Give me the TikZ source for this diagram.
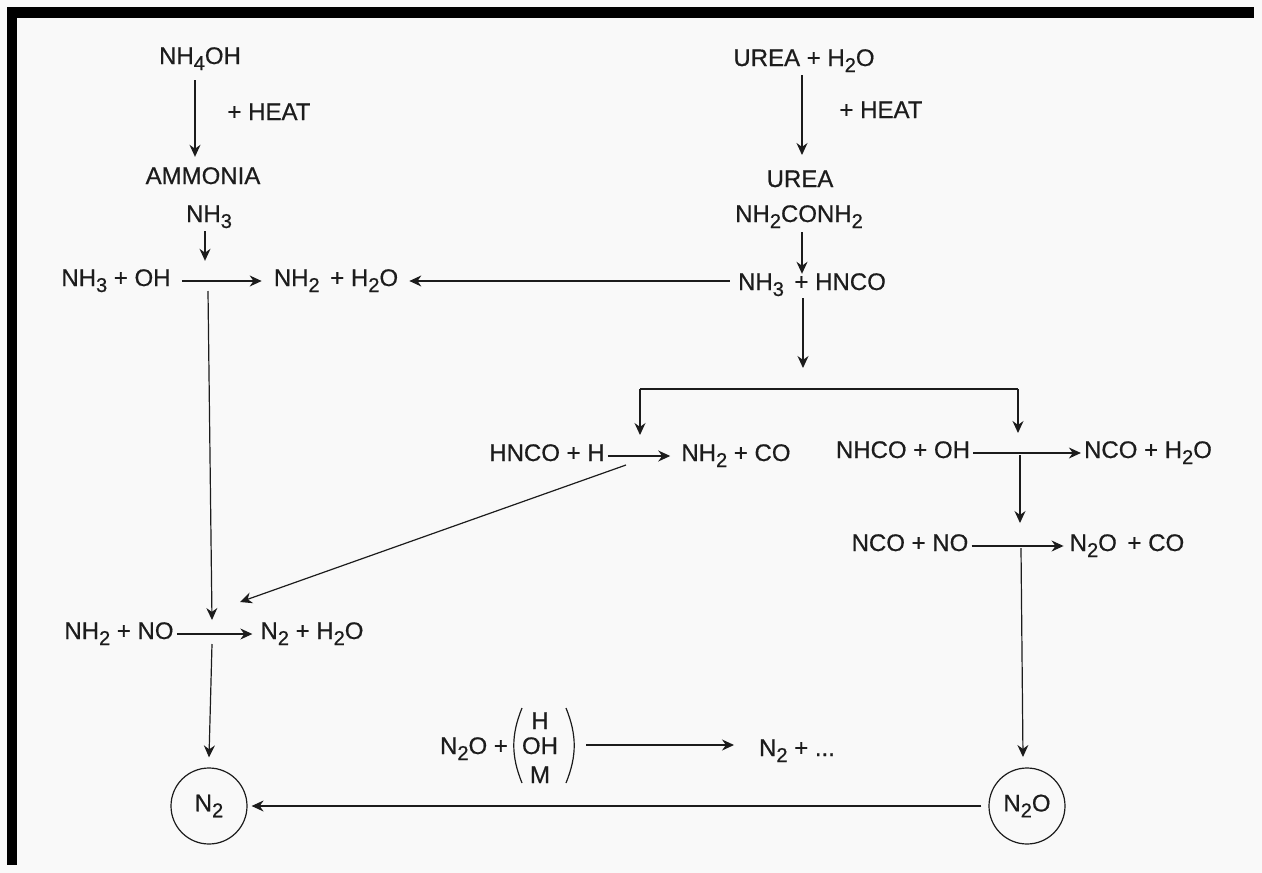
\documentclass[tikz,border=0pt]{standalone}
\usepackage{fontspec}
\setmainfont{Liberation Sans}[FakeBold=0.6]
\usetikzlibrary{arrows.meta,positioning,calc}
\definecolor{ink}{HTML}{1C1C1C}
\definecolor{paper}{HTML}{F9F9F9}
\newcommand{\lowidx}[1]{\raisebox{-6pt}{\fontsize{20}{20}\selectfont #1}}
\tikzset{chembox/.style={text=ink,font=\fontsize{24}{26}\selectfont,inner xsep=3pt,inner ysep=0pt,text height=17pt,text depth=7pt},chemarr/.style={-{Stealth[length=12pt,width=11pt]},line width=1.2pt,draw=ink},chemline/.style={line width=1.2pt,draw=ink},chemring/.style={draw=ink,line width=1.2pt,circle,text=ink,font=\fontsize{24}{26}\selectfont,inner sep=0pt,minimum size=76pt}}

\begin{document}
\begin{tikzpicture}[x=1pt,y=-1pt]
\fill[paper] (0,0) rectangle (1262,873);
\fill[black] (7,7) rectangle (1254,18);
\fill[black] (7,7) rectangle (17,865);
\node[chembox] (nhfour) at (200,59) {NH\lowidx{4}OH};
\node[chembox] (heata) at (269,115) {+ HEAT};
\node[chembox] (ammonia) at (203,179) {AMMONIA};
\node[chembox] (nhthree) at (209,217) {NH\lowidx{3}};
\node[chembox] (nhoh) at (116,281) {NH\lowidx{3} + OH};
\node[chembox] (nhwater) at (336,281) {NH\lowidx{2} \,+ H\lowidx{2}O};
\node[chembox] (ureawater) at (804,61) {UREA + H\lowidx{2}O};
\node[chembox] (heatb) at (881,113) {+ HEAT};
\node[chembox] (urea) at (800,182) {UREA};
\node[chembox] (ureaform) at (799,217) {NH\lowidx{2}CONH\lowidx{2}};
\node[chembox] (nhhnco) at (812,285) {NH\lowidx{3} \,+ HNCO};
\node[chembox] (hncoh) at (547,456) {HNCO + H};
\node[chembox] (nhco) at (736,456) {NH\lowidx{2} + CO};
\node[chembox] (nhcooh) at (903,453) {NHCO + OH};
\node[chembox] (ncowater) at (1148,453) {NCO + H\lowidx{2}O};
\node[chembox] (ncono) at (910,546) {NCO + NO};
\node[chembox] (ntwoco) at (1127,546) {N\lowidx{2}O \,+ CO};
\node[chembox] (nhno) at (119,634) {NH\lowidx{2} + NO};
\node[chembox] (ntwater) at (312,634) {N\lowidx{2} + H\lowidx{2}O};
\node[chembox] (ntwoh) at (474,749) {N\lowidx{2}O +};
\node[chembox] (radh) at (540,724) {H};
\node[chembox] (radoh) at (540,749) {OH};
\node[chembox] (radm) at (540,778) {M};
\node[chembox] (ntwoend) at (797,751) {N\lowidx{2} + ...};
\node[chemring] (ringa) at (209,806) {N\lowidx{2}};
\node[chemring] (ringb) at (1027,806) {N\lowidx{2}O};
\coordinate (parlt) at (522,708);
\coordinate (parlb) at (522,783);
\coordinate (parrt) at (566,708);
\coordinate (parrb) at (566,783);
\coordinate (radout) at (586,745);
\coordinate (radtip) at (734,745);
\coordinate (forka) at (208,291);
\coordinate (tipa) at (212,620);
\coordinate (forkb) at (212,644);
\coordinate (ureaout) at (802,75);
\coordinate (ureatip) at (802,155);
\coordinate (forkc) at (803,298);
\coordinate (tipc) at (803,368);
\coordinate (barl) at (640,389);
\coordinate (barr) at (1018,389);
\coordinate (tipl) at (640,435);
\coordinate (tipr) at (1018,433);
\coordinate (forkd) at (1020,455);
\coordinate (tipd) at (1020,523);
\coordinate (forke) at (1021,548);
\coordinate (tipe) at (1023,757);
\coordinate (diagfrom) at (626,465);
\coordinate (diagtip) at (240,602);
\draw[chemline] (parlt) to[bend right=22] (parlb);
\draw[chemline] (parrt) to[bend left=22] (parrb);
\draw[chemarr] ([xshift=-5pt,yshift=-9pt]nhfour.south) -- ([xshift=-8pt,yshift=10pt]ammonia.north);
\draw[chemarr] ([xshift=-4pt,yshift=-2pt]nhthree.south) -- ([xshift=-4pt,yshift=8pt]nhthree |- nhoh.north);
\draw[chemarr] ([xshift=8pt]nhoh.east) -- ([xshift=-9pt]nhwater.west);
\draw[chemarr] ([xshift=-5pt,yshift=4pt]nhhnco.west) -- ([xshift=8pt]nhwater.east);
\draw[chemarr] (forka) -- (tipa);
\draw[chemarr] (nhno.east) -- ([xshift=-5pt]ntwater.west);
\draw[chemarr] (forkb) -- ([yshift=10pt]ringa.north);
\draw[chemarr] (ureaout) -- (ureatip);
\draw[chemarr] ([yshift=-3pt]ureatip |- ureaform.south) -- ([yshift=-1pt]ureatip |- nhhnco.north);
\draw[chemarr] (forkc) -- (tipc);
\draw[chemline] (barl) -- (barr);
\draw[chemarr] (barl) -- (tipl);
\draw[chemarr] (barr) -- (tipr);
\draw[chemarr] (hncoh.east) -- ([xshift=-8pt]nhco.west);
\draw[chemarr] (nhcooh.east) -- (ncowater.west);
\draw[chemarr] (forkd) -- (tipd);
\draw[chemarr] (ncono.east) -- ([xshift=-3pt]ntwoco.west);
\draw[chemarr] (forke) -- (tipe);
\draw[chemarr] (diagfrom) -- (diagtip);
\draw[chemarr] (radout) -- (radtip);
\draw[chemarr] ([xshift=-7pt]ringb.west) -- ([xshift=4pt]ringa.east);
\end{tikzpicture}
\end{document}
